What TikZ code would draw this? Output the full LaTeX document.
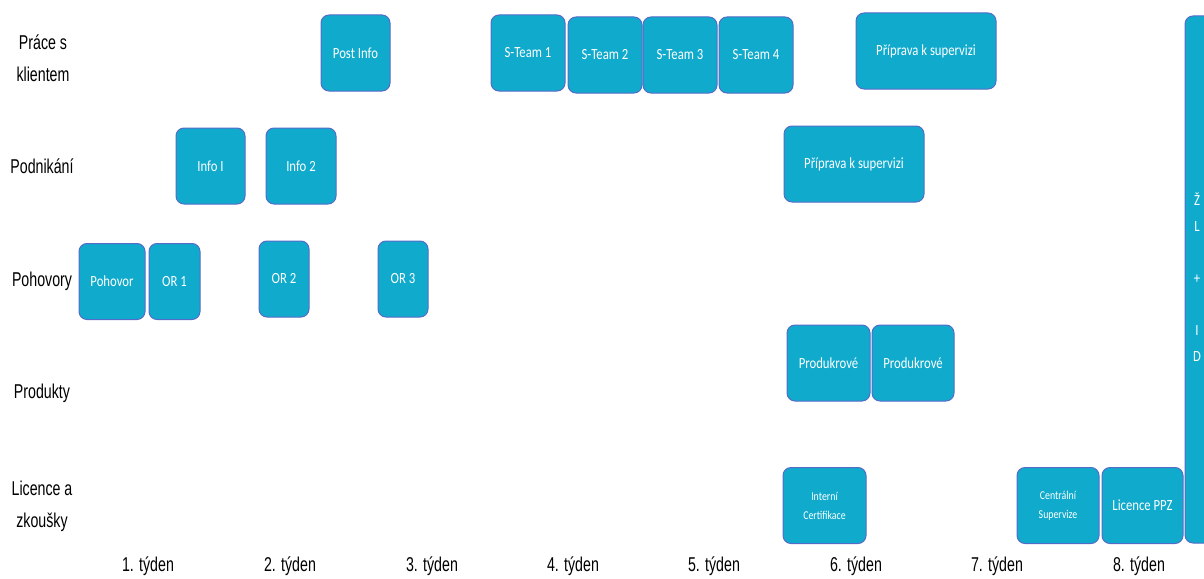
\documentclass[tikz,border=0pt]{standalone}
\usepackage{fontspec}
\setmainfont{Liberation Sans}
\newfontfamily\lblfont[FakeStretch=0.71]{Liberation Sans}
\newfontfamily\boxfont[FakeStretch=0.82]{Carlito}
\definecolor{boxfill}{RGB}{16,170,204}
\definecolor{boxline}{RGB}{84,108,200}
\begin{document}
\begin{tikzpicture}[x=1pt,y=-1pt,
  box/.style={draw=boxline,fill=boxfill,line width=1pt,rounded corners=8pt,
    text=white,font=\boxfont\fontsize{15.5}{16}\selectfont,align=center,
    inner sep=1pt,minimum height=76pt},
  lbl/.style={font=\lblfont\fontsize{20}{32}\selectfont,align=center,text=black,inner sep=0pt},
  wk/.style={font=\lblfont\fontsize{20}{24}\selectfont,text=black,inner sep=0pt}]
\useasboundingbox (0,0) rectangle (1204,578);
\clip (0,0) rectangle (1204,578);
% row labels
\node[lbl] (r1) at (43,58) {Práce s\\klientem};
\node[lbl] (r2) at (42,166) {Podnikání};
\node[lbl] (r3) at (42,281) {Pohovory};
\node[lbl] (r4) at (42,393) {Produkty};
\node[lbl] (r5) at (42,506) {Licence a\\zkoušky};
% week labels
\node[wk] (w1) at (148,566) {1. týden};
\node[wk] (w2) at (290,566) {2. týden};
\node[wk] (w3) at (432,566) {3. týden};
\node[wk] (w4) at (573,566) {4. týden};
\node[wk] (w5) at (714,566) {5. týden};
\node[wk] (w6) at (856,566) {6. týden};
\node[wk] (w7) at (997,566) {7. týden};
\node[wk] (w8) at (1139,566) {8. týden};
% row 1
\node[box,minimum width=69pt] (post) at (355.5,53) {Post Info};
\node[box,minimum width=74pt] (st1) at (528,53) {S-Team 1};
\node[box,minimum width=74pt] (st2) at (605,55) {S-Team 2};
\node[box,minimum width=74pt] (st3) at (680,55) {S-Team 3};
\node[box,minimum width=74pt] (st4) at (756,55) {S-Team 4};
\node[box,minimum width=140pt] (sup1) at (926,51) {Příprava k supervizi};
% row 2
\node[box,minimum width=69pt] (info1) at (210.5,166) {Info I};
\node[box,minimum width=70pt] (info2) at (301,166) {Info 2};
\node[box,minimum width=140pt] (sup2) at (854,164) {Příprava k supervizi};
% row 3
\node[box,minimum width=66pt] (poh) at (112,281.5) {Pohovor};
\node[box,minimum width=51pt] (or1) at (174.5,281.5) {OR 1};
\node[box,minimum width=50pt] (or2) at (284,279) {OR 2};
\node[box,minimum width=50pt] (or3) at (403,279) {OR 3};
% row 4
\node[box,minimum width=83pt] (prod1) at (828.5,363) {Produkrové};
\node[box,minimum width=82pt] (prod2) at (913,363) {Produkrové};
% row 5
\node[box,minimum width=83pt,font=\boxfont\fontsize{12}{19}\selectfont] (cert) at (824.5,505.5) {Interní\\Certifikace};
\node[box,minimum width=82pt,font=\boxfont\fontsize{12}{19}\selectfont] (csup) at (1058,505.5) {Centrální\\Supervize};
\node[box,minimum width=81pt] (ppz) at (1142.5,505.5) {Licence PPZ};
% tall bar
\node[box,minimum width=40pt,minimum height=527pt] (bar) at (1205,279.5) {};
\node[text=white,font=\boxfont\fontsize{15.5}{26}\selectfont,align=center,inner sep=0pt] (bartxt) at (1197,277) {Ž\\L\\\mbox{}\\+\\\mbox{}\\I\\D};
\end{tikzpicture}
\end{document}
